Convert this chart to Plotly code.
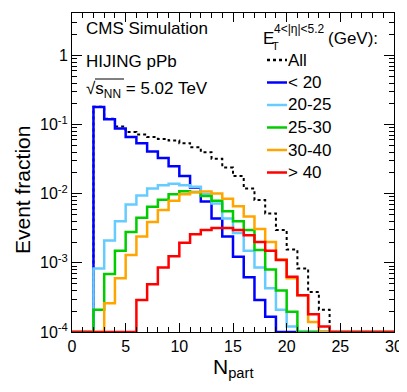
import plotly.graph_objects as go

# bin contents, N_part bins of width 1 from 0 to 30
npart_edges = list(range(31))

frac_all = [0, 0, 0.181, 0.122, 0.094, 0.078, 0.072, 0.066, 0.062, 0.059,
            0.054, 0.047, 0.040, 0.032, 0.024, 0.018, 0.0119, 0.0081, 0.0052, 0.0030,
            0.00156, 0.00083, 0.00038, 0.00021, 0, 0, 0, 0, 0, 0]
frac_lt20 = [0, 0, 0.18, 0.12, 0.088, 0.066, 0.054, 0.041, 0.033, 0.025,
             0.018, 0.0123, 0.0077, 0.0044, 0.0024, 0.00123, 0.00062, 0.00029, 0.000166, 0,
             0, 0, 0, 0, 0, 0, 0, 0, 0, 0]
frac_20_25 = [0, 0, 0.00083, 0.0021, 0.0040, 0.0070, 0.0094, 0.0119, 0.0133, 0.0140,
              0.0133, 0.0126, 0.0098, 0.0072, 0.0044, 0.0027, 0.0015, 0.00086, 0.00043, 0.00021,
              0.00012, 0, 0, 0, 0, 0, 0, 0, 0, 0]
frac_25_30 = [0, 0, 0.00021, 0.00069, 0.0015, 0.0028, 0.0045, 0.0065, 0.0082, 0.0098,
              0.0109, 0.0106, 0.0093, 0.0079, 0.0056, 0.0040, 0.0030, 0.00153, 0.00080, 0.00040,
              0.000196, 0, 0, 0, 0, 0, 0, 0, 0, 0]
frac_30_40 = [0, 0, 0, 0.00026, 0.00060, 0.0013, 0.0024, 0.0039, 0.0058, 0.0079,
              0.0098, 0.0105, 0.0108, 0.0101, 0.0085, 0.0066, 0.0047, 0.0031, 0.0020, 0.00112,
              0.00060, 0.00034, 0.00014, 0, 0, 0, 0, 0, 0, 0]
frac_gt40 = [0, 0, 0, 0, 0, 0, 0.00029, 0.00049, 0.00086, 0.00125,
             0.00195, 0.0026, 0.0030, 0.0032, 0.0032, 0.0030, 0.0025, 0.0020, 0.0015, 0.0011,
             0.00063, 0.00034, 0.00018, 0.00012, 0, 0, 0, 0, 0, 0]

labels = ["All", "< 20", "20-25", "25-30", "30-40", "> 40"]
colors = ["black", "#0000ff", "#66ccff", "#00cc00", "#ffa500", "#ff0000"]
series = [frac_all, frac_lt20, frac_20_25, frac_25_30, frac_30_40, frac_gt40]

FLOOR = 1e-4
FONT = "Liberation Sans, Arial, sans-serif"

fig = go.Figure()
for name, col, vals in zip(labels, colors, series):
	y = [v if v > 0 else FLOOR for v in vals]
	fig.add_trace(go.Scatter(x=npart_edges, y=y + [y[-1]], mode="lines",
							 line=dict(color=col, width=2.5 if name != "All" else 2,
									   shape="hv", dash="dot" if name == "All" else "solid"),
							 name=name, showlegend=False))

# page pixel -> paper coords (plot frame spans x 72..394, y 13..332 on the page)
def px(x): return (x - 72) / 322.0
def py(y): return (332 - y) / 319.0

ann = []
def text(x, y, s, size=17, xa="left", ya="middle", **kw):
	ann.append(dict(x=px(x), y=py(y), xref="paper", yref="paper", text=s, showarrow=False,
					xanchor=xa, yanchor=ya, font=dict(size=size, family=FONT, color="black"), **kw))

text(84, 28, "CMS Simulation")
text(84, 61, "HIJING pPb")
text(84, 90, "√s<sub>NN</sub> = 5.02 TeV")
text(261, 39, "E")
text(270, 46, "T", size=11)
text(272, 29, "4<|η|<5.2", size=12)
text(326, 39, "(GeV):")

shapes = [dict(type="line", xref="paper", yref="paper", x0=px(95), x1=px(124), y0=py(79), y1=py(79),
			   line=dict(color="black", width=1))]
leg_y = [60, 82.5, 105, 127.5, 150, 172.5]
for name, col, yy in zip(labels, colors, leg_y):
	shapes.append(dict(type="line", xref="paper", yref="paper", x0=px(267), x1=px(287),
					   y0=py(yy), y1=py(yy),
					   line=dict(color=col, width=2.5, dash="dot" if name == "All" else "solid")))
	text(286, yy, name)

text(22, 190, "Event fraction", size=21, xa="center", textangle=-90)
text(233, 368, "N<sub>part</sub>", size=21, xa="center")

ytick_vals = [1e-4, 1e-3, 1e-2, 1e-1, 1]
ytick_text = ["10<sup>-4</sup>", "10<sup>-3</sup>", "10<sup>-2</sup>", "10<sup>-1</sup>", "1"]
yminor = [m * 10 ** e for e in range(-4, 1) for m in range(2, 10)]

# the page body has an 8px margin, so the figure is shrunk by 8px and margins shifted
fig.update_layout(
	width=399, height=384,
	margin=dict(l=64, r=13, t=5, b=60),
	paper_bgcolor="white", plot_bgcolor="white",
	font=dict(family=FONT, size=16, color="black"),
	annotations=ann, shapes=shapes,
	xaxis=dict(range=[0, 30], tickmode="linear", tick0=0, dtick=5, ticks="inside", ticklen=9,
			   showgrid=False, zeroline=False, showline=True, linecolor="black", linewidth=1,
			   mirror="allticks", tickcolor="black",
			   minor=dict(dtick=1, ticks="inside", ticklen=5, tickcolor="black", showgrid=False)),
	yaxis=dict(type="log", range=[-4, 0.615], tickmode="array", tickvals=ytick_vals,
			   ticktext=ytick_text, ticks="inside", ticklen=10, showgrid=False, zeroline=False,
			   showline=True, linecolor="black", linewidth=1, mirror="allticks", tickcolor="black",
			   minor=dict(tickmode="array", tickvals=yminor, ticks="inside", ticklen=5,
						  tickcolor="black", showgrid=False)),
)

fig.write_html("out.html")
